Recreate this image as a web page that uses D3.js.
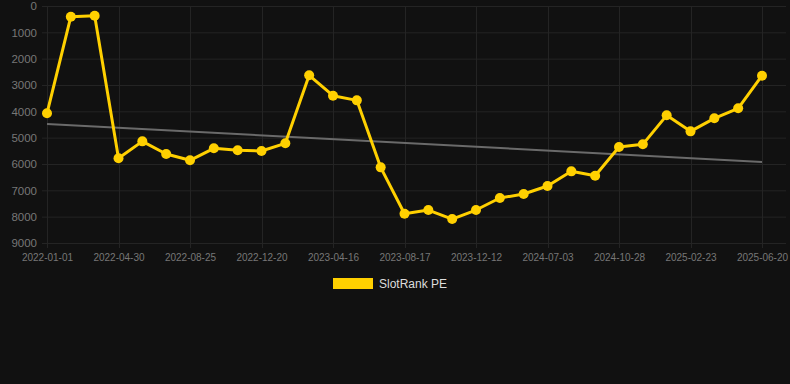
<!DOCTYPE html>
<html>
<head>
<meta charset="utf-8">
<script src="https://cdn.jsdelivr.net/npm/d3@7/dist/d3.min.js"></script>
<style>
html,body{margin:0;padding:0;background:#111111;}
svg{display:block;}
</style>
</head>
<body>
<svg id="chart" width="790" height="384"></svg>
<script>
const categories = [
  "2022-01-01","2022-02-09","2022-03-21","2022-04-30","2022-06-08","2022-07-17",
  "2022-08-25","2022-10-02","2022-11-11","2022-12-20","2023-01-27","2023-03-08",
  "2023-04-16","2023-05-27","2023-07-07","2023-08-17","2023-09-24","2023-11-02",
  "2023-12-12","2024-02-19","2024-04-27","2024-07-03","2024-08-11","2024-09-19",
  "2024-10-28","2024-12-06","2025-01-15","2025-02-23","2025-04-03","2025-05-12",
  "2025-06-20"
];
const seriesValues = [
  4075, 406, 368, 5785, 5140, 5620, 5860, 5405, 5480, 5507, 5215, 2633,
  3405, 3583, 6127, 7888, 7748, 8090, 7748, 7292, 7140, 6836, 6279, 6444,
  5355, 5253, 4152, 4760, 4266, 3886, 2646
];
const trendValues = [4480, 5925];
const yTicks = [0, 1000, 2000, 3000, 4000, 5000, 6000, 7000, 8000, 9000];
const xTickLabels = ["2022-01-01","2022-04-30","2022-08-25","2022-12-20","2023-04-16",
  "2023-08-17","2023-12-12","2024-07-03","2024-10-28","2025-02-23","2025-06-20"];
const seriesName = "SlotRank PE";

const svg = d3.select("#chart");
const gridLeft = 42, gridRight = 786;
const x = d3.scalePoint().domain(categories).range([47, 762]);
const y = d3.scaleLinear().domain([0, 9000]).range([6, 243]);

// horizontal grid
svg.append("g").selectAll("line").data(yTicks).join("line")
  .attr("x1", gridLeft).attr("x2", gridRight)
  .attr("y1", d => y(d) + 0.5).attr("y2", d => y(d) + 0.5)
  .attr("stroke", "#242424").attr("stroke-width", 1);

// vertical grid
svg.append("g").selectAll("line").data(xTickLabels).join("line")
  .attr("x1", d => Math.round(x(d)) + 0.5).attr("x2", d => Math.round(x(d)) + 0.5)
  .attr("y1", y(0)).attr("y2", y(9000) + 5)
  .attr("stroke", "#242424").attr("stroke-width", 1);

// y axis labels
const yAxis = d3.axisLeft(y).tickValues(yTicks).tickSize(0).tickPadding(0).tickFormat(d3.format("d"));
const yg = svg.append("g").attr("transform", "translate(37,0)").call(yAxis);
yg.select(".domain").remove();
yg.selectAll("text").attr("fill", "#777").attr("font-family", "Arial, 'Liberation Sans', sans-serif").attr("font-size", 11.5);

// x axis labels
const xAxis = d3.axisBottom(x).tickValues(xTickLabels).tickSize(0).tickPadding(0);
const xg = svg.append("g").attr("transform", "translate(0,254)").call(xAxis);
xg.select(".domain").remove();
xg.selectAll("text").attr("fill", "#777").attr("font-family", "Arial, 'Liberation Sans', sans-serif").attr("font-size", 10);

// trend line
svg.append("line")
  .attr("x1", x(categories[0])).attr("y1", y(trendValues[0]))
  .attr("x2", x(categories[categories.length - 1])).attr("y2", y(trendValues[1]))
  .attr("stroke", "#6a6a6a").attr("stroke-width", 2);

// series line
const line = d3.line().x((d, i) => x(categories[i])).y(d => y(d));
svg.append("path").datum(seriesValues)
  .attr("d", line).attr("fill", "none")
  .attr("stroke", "#FFD000").attr("stroke-width", 3).attr("stroke-linejoin", "round");

svg.append("g").selectAll("circle").data(seriesValues).join("circle")
  .attr("cx", (d, i) => x(categories[i])).attr("cy", d => y(d))
  .attr("r", 5).attr("fill", "#FFD000");

// legend
const lg = svg.append("g");
lg.append("rect").attr("x", 333).attr("y", 278).attr("width", 40).attr("height", 11).attr("fill", "#FFD000");
lg.append("text").attr("x", 379).attr("y", 288).text(seriesName)
  .attr("fill", "#dddddd").attr("font-family", "Arial, 'Liberation Sans', sans-serif").attr("font-size", 12);
</script>
</body>
</html>
